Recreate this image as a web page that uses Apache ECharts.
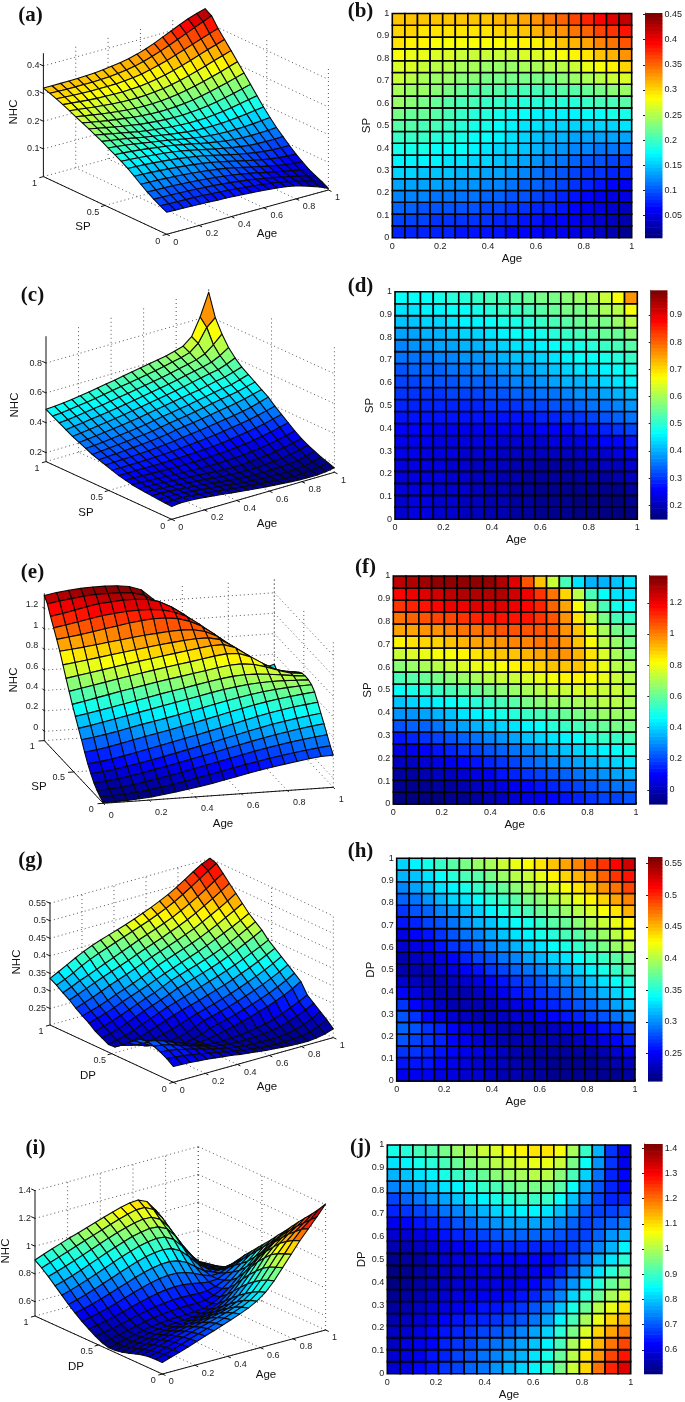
<!DOCTYPE html>
<html><head><meta charset="utf-8">
<style>html,body{margin:0;padding:0;background:#fff}#c{width:685px;height:1402px}</style>
<script src="https://cdn.jsdelivr.net/npm/echarts@6/dist/echarts.min.js"></script>
</head><body><div id="c"></div>
<script>
// NHC values. Each matrix: rows SP/DP = 0 .. 1, columns Age = 0 .. 1 (20 nodes each way)
const nhcA = [
[.080,.079,.078,.077,.076,.075,.073,.072,.070,.068,.066,.064,.061,.058,.054,.048,.040,.030,.019,.006],
[.092,.091,.090,.089,.088,.087,.085,.083,.081,.078,.075,.072,.068,.064,.059,.053,.046,.038,.029,.019],
[.105,.104,.103,.102,.101,.099,.097,.095,.092,.089,.085,.081,.076,.071,.065,.059,.052,.045,.038,.030],
[.120,.119,.118,.117,.115,.113,.111,.108,.105,.101,.097,.092,.086,.080,.073,.066,.060,.054,.048,.042],
[.137,.136,.135,.133,.131,.129,.126,.123,.119,.115,.110,.104,.097,.090,.083,.076,.070,.065,.061,.058],
[.155,.154,.152,.150,.148,.145,.142,.138,.134,.129,.123,.116,.109,.102,.095,.088,.083,.079,.076,.075],
[.172,.171,.169,.167,.164,.161,.157,.153,.148,.142,.135,.128,.121,.114,.108,.103,.099,.096,.095,.095],
[.187,.185,.183,.180,.177,.174,.170,.165,.159,.153,.146,.139,.133,.127,.122,.118,.116,.115,.115,.116],
[.200,.198,.195,.192,.188,.184,.180,.175,.169,.163,.156,.150,.145,.140,.137,.135,.134,.135,.136,.138],
[.213,.210,.206,.202,.197,.192,.187,.182,.176,.170,.165,.160,.157,.155,.154,.154,.155,.157,.160,.163],
[.226,.221,.216,.211,.205,.199,.194,.189,.184,.180,.176,.173,.172,.172,.173,.175,.178,.182,.186,.190],
[.238,.232,.226,.220,.214,.208,.203,.199,.195,.192,.190,.189,.189,.190,.193,.197,.202,.208,.214,.220],
[.249,.243,.237,.231,.225,.220,.215,.212,.209,.207,.206,.206,.208,.211,.215,.220,.227,.234,.242,.250],
[.260,.254,.248,.243,.238,.234,.230,.227,.225,.224,.224,.226,.229,.233,.239,.246,.254,.262,.271,.280],
[.271,.266,.261,.256,.252,.248,.245,.243,.242,.242,.244,.247,.251,.257,.264,.272,.281,.290,.300,.310],
[.282,.278,.274,.270,.267,.264,.262,.261,.261,.262,.265,.269,.275,.282,.290,.299,.309,.319,.329,.339],
[.293,.290,.287,.284,.282,.281,.280,.280,.281,.283,.287,.292,.299,.307,.316,.326,.337,.348,.358,.368],
[.303,.301,.299,.298,.297,.297,.297,.298,.300,.303,.308,.315,.323,.332,.343,.354,.365,.376,.387,.397],
[.312,.311,.310,.310,.310,.310,.311,.313,.316,.320,.326,.334,.344,.355,.367,.380,.393,.406,.419,.432],
[.320,.320,.320,.320,.321,.322,.324,.327,.331,.336,.342,.350,.360,.372,.386,.400,.414,.427,.438,.447]];
const nhcC = [
[.225,.232,.232,.228,.222,.215,.208,.201,.194,.187,.181,.175,.170,.165,.160,.157,.155,.155,.160,.170],
[.228,.233,.232,.228,.222,.215,.208,.201,.194,.186,.180,.175,.170,.166,.162,.160,.160,.163,.172,.185],
[.232,.234,.232,.228,.222,.216,.209,.202,.195,.187,.181,.176,.172,.170,.168,.168,.170,.175,.186,.200],
[.236,.236,.233,.229,.224,.218,.211,.204,.197,.190,.185,.180,.177,.177,.178,.180,.184,.190,.204,.220],
[.240,.238,.235,.231,.226,.221,.215,.209,.203,.197,.192,.189,.188,.189,.193,.197,.203,.212,.225,.240],
[.245,.242,.239,.235,.231,.227,.222,.217,.212,.208,.205,.204,.205,.208,.213,.219,.227,.237,.250,.265],
[.250,.247,.244,.241,.238,.235,.232,.229,.227,.226,.226,.227,.230,.234,.240,.247,.256,.267,.280,.295],
[.260,.258,.256,.254,.252,.250,.249,.249,.249,.250,.252,.255,.259,.264,.270,.278,.288,.300,.315,.330],
[.270,.270,.270,.270,.270,.270,.271,.272,.274,.276,.279,.283,.288,.296,.305,.313,.323,.335,.350,.365],
[.285,.285,.286,.287,.288,.290,.292,.295,.300,.305,.310,.316,.323,.332,.340,.349,.359,.370,.385,.400],
[.300,.302,.304,.306,.309,.312,.316,.321,.327,.335,.342,.349,.357,.366,.375,.384,.394,.405,.422,.440],
[.315,.318,.322,.326,.330,.335,.340,.346,.353,.365,.373,.381,.390,.400,.410,.419,.429,.440,.455,.470],
[.330,.335,.340,.345,.351,.357,.363,.370,.380,.390,.399,.408,.417,.427,.440,.450,.460,.470,.485,.500],
[.350,.354,.359,.365,.372,.379,.386,.394,.404,.415,.424,.433,.443,.454,.465,.476,.486,.495,.512,.530],
[.370,.375,.381,.388,.395,.403,.411,.420,.430,.440,.450,.460,.470,.480,.490,.502,.514,.525,.542,.560],
[.390,.396,.403,.411,.419,.427,.436,.446,.455,.465,.475,.485,.495,.507,.520,.532,.544,.555,.575,.600],
[.415,.421,.428,.436,.444,.452,.461,.470,.480,.490,.500,.510,.520,.532,.545,.558,.570,.585,.612,.650],
[.440,.445,.452,.460,.468,.476,.485,.495,.505,.515,.525,.535,.545,.557,.570,.583,.597,.620,.665,.720],
[.465,.470,.476,.484,.492,.500,.510,.520,.530,.540,.550,.560,.570,.582,.595,.608,.625,.670,.760,.810],
[.490,.494,.500,.507,.515,.523,.533,.543,.553,.565,.575,.585,.595,.605,.615,.630,.648,.695,.810,.960]];
const nhcE = [
[-.085,-.082,-.078,-.070,-.060,-.045,-.028,-.010,.010,.030,.055,.080,.105,.128,.150,.170,.188,.205,.22,.225],
[-.060,-.056,-.050,-.040,-.026,-.008,.012,.034,.058,.082,.107,.132,.157,.180,.202,.222,.240,.257,.272,.285],
[-.030,-.024,-.014,.002,.022,.044,.068,.092,.118,.144,.170,.196,.222,.247,.270,.292,.312,.330,.346,.360],
[.012,.022,.036,.056,.078,.102,.126,.152,.178,.204,.231,.258,.285,.312,.337,.360,.382,.402,.420,.435],
[.070,.082,.098,.118,.140,.164,.188,.214,.240,.266,.294,.322,.350,.378,.405,.430,.452,.472,.490,.505],
[.135,.148,.166,.188,.212,.238,.264,.290,.316,.342,.370,.398,.426,.454,.482,.508,.530,.550,.566,.580],
[.215,.232,.252,.276,.302,.328,.352,.376,.402,.428,.455,.482,.510,.537,.562,.585,.605,.622,.636,.648],
[.305,.322,.342,.365,.390,.415,.438,.460,.484,.510,.536,.562,.588,.612,.634,.652,.666,.676,.683,.688],
[.385,.405,.428,.452,.476,.500,.524,.548,.572,.596,.620,.644,.666,.684,.698,.708,.712,.712,.708,.703],
[.470,.490,.512,.535,.558,.582,.606,.630,.652,.674,.696,.718,.738,.754,.762,.760,.750,.736,.720,.708],
[.555,.578,.602,.626,.650,.672,.694,.716,.736,.755,.774,.794,.814,.830,.836,.822,.790,.748,.715,.702],
[.650,.672,.694,.716,.738,.760,.780,.800,.820,.838,.856,.876,.896,.910,.905,.864,.792,.728,.692,.680],
[.745,.764,.783,.803,.823,.843,.862,.880,.898,.915,.932,.950,.965,.968,.930,.850,.760,.695,.662,.650],
[.845,.860,.876,.893,.910,.927,.944,.960,.975,.988,1.00,1.01,1.01,.985,.915,.820,.730,.670,.635,.620],
[.945,.957,.970,.985,1.00,1.015,1.03,1.045,1.055,1.065,1.07,1.065,1.04,.985,.900,.800,.705,.640,.605,.590],
[1.03,1.045,1.06,1.08,1.10,1.12,1.14,1.155,1.165,1.165,1.15,1.115,1.06,.975,.870,.745,.635,.565,.535,.525],
[1.11,1.13,1.15,1.175,1.195,1.21,1.22,1.225,1.225,1.21,1.18,1.13,1.05,.95,.820,.680,.565,.495,.475,.480],
[1.19,1.21,1.235,1.26,1.28,1.29,1.30,1.30,1.29,1.26,1.20,1.12,1.01,.880,.720,.570,.465,.420,.420,.440],
[1.28,1.30,1.315,1.33,1.34,1.34,1.34,1.33,1.30,1.22,1.06,.91,.74,.57,.43,.36,.345,.385,.425,.46],
[1.33,1.35,1.365,1.375,1.38,1.38,1.375,1.36,1.32,1.22,1.01,.85,.68,.54,.44,.40,.41,.44,.47,.50]];
const nhcG = [
[.248,.247,.246,.244,.242,.239,.236,.233,.229,.226,.223,.220,.218,.216,.214,.213,.213,.215,.220,.228],
[.262,.260,.257,.253,.249,.244,.239,.234,.230,.226,.222,.219,.217,.216,.216,.217,.219,.224,.233,.245],
[.272,.270,.266,.260,.254,.247,.241,.235,.230,.226,.223,.221,.220,.220,.221,.223,.228,.236,.247,.260],
[.280,.277,.271,.263,.255,.247,.240,.234,.229,.226,.225,.225,.226,.228,.231,.236,.243,.252,.263,.275],
[.286,.281,.273,.263,.253,.244,.236,.230,.227,.226,.227,.229,.232,.236,.241,.248,.257,.267,.278,.290],
[.283,.268,.254,.243,.235,.230,.228,.228,.230,.235,.240,.246,.252,.259,.267,.275,.284,.294,.306,.320],
[.270,.256,.243,.233,.226,.224,.225,.228,.235,.245,.251,.257,.264,.272,.280,.289,.298,.309,.321,.335],
[.255,.243,.234,.228,.225,.226,.230,.238,.248,.258,.264,.271,.278,.286,.295,.304,.314,.325,.337,.350],
[.240,.233,.228,.228,.232,.238,.245,.253,.262,.270,.277,.284,.292,.300,.309,.319,.329,.340,.352,.365],
[.226,.226,.229,.235,.243,.252,.261,.270,.278,.285,.292,.300,.308,.316,.325,.335,.345,.356,.368,.380],
[.225,.230,.236,.245,.255,.265,.275,.284,.292,.300,.308,.316,.324,.332,.341,.351,.361,.372,.383,.395],
[.235,.241,.248,.258,.268,.278,.287,.296,.306,.316,.324,.332,.340,.348,.357,.367,.378,.390,.402,.415],
[.245,.253,.261,.270,.280,.290,.299,.308,.319,.330,.338,.346,.354,.362,.371,.381,.392,.404,.417,.430],
[.260,.267,.275,.284,.294,.303,.312,.321,.331,.341,.350,.359,.368,.377,.387,.398,.409,.420,.432,.445],
[.272,.279,.287,.296,.306,.315,.324,.334,.345,.356,.365,.374,.383,.392,.402,.413,.425,.438,.451,.465],
[.285,.294,.303,.313,.323,.332,.341,.351,.361,.371,.380,.389,.398,.408,.418,.430,.443,.456,.470,.485],
[.300,.309,.319,.329,.339,.348,.357,.366,.376,.386,.395,.404,.414,.424,.435,.447,.461,.475,.490,.505],
[.312,.322,.333,.342,.352,.362,.372,.382,.392,.402,.411,.420,.430,.440,.452,.465,.479,.494,.510,.525],
[.325,.335,.347,.360,.372,.382,.391,.400,.409,.418,.427,.436,.446,.457,.469,.483,.498,.514,.530,.545],
[.336,.348,.361,.374,.386,.396,.405,.413,.421,.429,.438,.448,.458,.469,.481,.495,.510,.526,.541,.551]];
const nhcI = [
[.580,.600,.620,.642,.665,.687,.709,.731,.754,.778,.805,.838,.885,.950,1.03,1.11,1.19,1.26,1.33,1.405],
[.580,.598,.617,.638,.660,.681,.702,.723,.744,.766,.790,.822,.868,.935,1.01,1.09,1.17,1.235,1.285,1.345],
[.577,.593,.611,.631,.651,.671,.690,.708,.727,.746,.768,.798,.842,.910,.990,1.07,1.14,1.195,1.24,1.29],
[.568,.584,.601,.620,.638,.656,.672,.687,.702,.718,.738,.767,.810,.878,.957,1.04,1.105,1.155,1.195,1.24],
[.553,.570,.587,.605,.621,.636,.649,.660,.672,.686,.704,.732,.775,.840,.915,.995,1.055,1.105,1.145,1.19],
[.537,.553,.570,.587,.602,.615,.625,.634,.643,.654,.669,.694,.735,.795,.868,.945,1.005,1.055,1.095,1.135],
[.522,.537,.554,.570,.584,.596,.604,.610,.617,.625,.637,.657,.692,.747,.815,.885,.945,.995,1.04,1.08],
[.512,.526,.542,.558,.571,.582,.589,.594,.598,.603,.611,.625,.652,.698,.757,.822,.880,.935,.985,1.03],
[.510,.523,.538,.554,.568,.579,.587,.593,.596,.599,.602,.610,.627,.660,.708,.765,.825,.880,.935,.975],
[.525,.535,.548,.563,.578,.592,.604,.613,.620,.624,.625,.625,.630,.648,.680,.725,.778,.830,.885,.925],
[.550,.559,.571,.586,.602,.618,.632,.644,.653,.660,.662,.660,.657,.660,.674,.702,.745,.790,.835,.875],
[.580,.590,.603,.618,.636,.654,.672,.688,.701,.711,.716,.715,.706,.694,.684,.690,.718,.755,.785,.825],
[.612,.625,.640,.657,.676,.697,.718,.738,.756,.769,.776,.775,.764,.742,.713,.690,.692,.715,.740,.775],
[.650,.665,.682,.702,.723,.745,.767,.789,.809,.825,.835,.837,.826,.798,.750,.705,.680,.680,.695,.720],
[.690,.707,.727,.749,.772,.796,.820,.843,.865,.883,.896,.901,.892,.860,.802,.735,.685,.657,.652,.665],
[.735,.753,.774,.797,.821,.846,.871,.895,.917,.937,.952,.960,.954,.920,.855,.770,.700,.650,.625,.622],
[.780,.799,.820,.843,.868,.893,.918,.942,.965,.985,1.00,1.01,1.005,.975,.905,.810,.725,.660,.620,.605],
[.825,.845,.866,.889,.913,.937,.961,.985,1.007,1.027,1.044,1.055,1.052,1.020,.950,.850,.750,.665,.615,.595],
[.865,.888,.910,.932,.955,.978,1.00,1.022,1.045,1.066,1.085,1.10,1.10,1.07,.995,.890,.780,.675,.610,.585],
[.900,.925,.948,.970,.992,1.012,1.033,1.054,1.075,1.095,1.113,1.128,1.133,1.105,1.03,.92,.80,.69,.61,.575]];

const ageTicks = [0,.2,.4,.6,.8,1];
const spTicks3D = [0,.5,1];
const zTicksA = [.1,.2,.3,.4];
const zTicksC = [.2,.4,.6,.8];
const zTicksE = [0,.2,.4,.6,.8,1,1.2];
const zTicksG = [.25,.3,.35,.4,.45,.5,.55];
const zTicksI = [.6,.8,1,1.2,1.4];
const barTicksB = [.05,.1,.15,.2,.25,.3,.35,.4,.45];
const barTicksD = [.2,.3,.4,.5,.6,.7,.8,.9];
const barTicksF = [0,.2,.4,.6,.8,1,1.2];
const barTicksH = [.25,.3,.35,.4,.45,.5,.55];
const barTicksJ = [.6,.7,.8,.9,1,1.1,1.2,1.3,1.4];

[nhcA,nhcC,nhcE,nhcG,nhcI].forEach((m,k)=>{ if(m.length!==20) throw new Error('rows '+k);
  m.forEach((r,i)=>{ if(r.length!==20) throw new Error('matrix '+k+' row '+i+' len '+r.length); }); });

const FONT = '"Liberation Sans",Arial,sans-serif';
const INK = '#222';
const clamp = v => Math.max(0, Math.min(1, v));
function jet(v, rng){
  const n = 64;
  const t = Math.min(n-1, Math.max(0, Math.floor((v-rng[0])/(rng[1]-rng[0])*n)))/(n-1);
  const c = k => Math.round(255*clamp(1.5-Math.abs(4*t-k)));
  return 'rgb('+c(3)+','+c(2)+','+c(1)+')';
}
const N = 19;

const surfaces = [
 {m:nhcA,rng:[.006,.453],O:[166.7,234.3],A:[161.7,-44.3],S:[-123.3,-57.7],zs:276.7,zb:[0,.446],zt:zTicksA,yName:'SP',off:{age:[10,8],sp:[-9,7],z:[-4,0]},
  names:{nhc:[14,112],sp:[83,227],age:[267,234]},letter:['(a)',18,16]},
 {m:nhcC,rng:[.15,.99],O:[171.7,519.3],A:[162.7,-47],S:[-125.7,-57.7],zs:149.3,zb:[.14,.98],zt:zTicksC,yName:'SP',off:{age:[10,8],sp:[-9,7],z:[-4,0]},
  names:{nhc:[15,405],sp:[86,513],age:[267,524]},letter:['(c)',20,296]},
 {m:nhcE,rng:[-.09,1.375],O:[103.3,803.3],A:[230,-16],S:[-59,-62.7],zs:102.2,zb:[-.09,1.35],zt:zTicksE,yName:'SP',off:{age:[9,12],sp:[-12,6],z:[-6,-4]},
  names:{nhc:[14,680],sp:[39,787],age:[223,824]},letter:['(e)',20,573]},
 {m:nhcG,rng:[.207,.56],O:[173.3,1082.3],A:[160,-44.7],S:[-123.3,-57.3],zs:350.7,zb:[.203,.553],zt:zTicksG,yName:'DP',off:{age:[10,8],sp:[-9,7],z:[-4,0]},
  names:{nhc:[17,962],sp:[88,1076],age:[267,1087]},letter:['(g)',18,861]},
 {m:nhcI,rng:[.506,1.416],O:[162.3,1374],A:[163.3,-44],S:[-127.3,-58],zs:138.8,zb:[.497,1.405],zt:zTicksI,yName:'DP',off:{age:[10,8],sp:[-9,7],z:[-4,0]},
  names:{nhc:[6,1251],sp:[76,1367],age:[266,1375]},letter:['(i)',23,1149]}
];
const heats = [
 {m:nhcA,rng:[.006,.453],bt:barTicksB,box:[392.3,13.5,239.4,224.2],bar:[645,13,19,224.7],yName:'SP',letter:['(b)',348,12]},
 {m:nhcC,rng:[.15,.99],bt:barTicksD,box:[395,291.7,242.3,227.6],bar:[650.7,290.3,18.6,228.7],yName:'SP',letter:['(d)',348,287]},
 {m:nhcE,rng:[-.09,1.375],bt:barTicksF,box:[393.3,576,242.7,228],bar:[649.3,575.5,19,228.5],yName:'SP',letter:['(f)',353,568]},
 {m:nhcG,rng:[.207,.56],bt:barTicksH,box:[396.7,858.3,238.3,222.7],bar:[648,857,18.7,224],yName:'DP',letter:['(h)',348,852]},
 {m:nhcI,rng:[.506,1.416],bt:barTicksJ,box:[387.3,1145,243.4,228.7],bar:[644,1144,18.7,229.7],yName:'DP',letter:['(j)',348,1148]}
];

const project = (p,a,s,z)=>[p.O[0]+a*p.A[0]+s*p.S[0], p.O[1]+a*p.A[1]+s*p.S[1]-(z-p.zb[0])*p.zs];
const fmt = v => String(+v.toFixed(2));

const grid=[{left:0,top:0,width:685,height:1402,show:false}];
const xAxis=[{gridIndex:0,type:'value',min:0,max:685,show:false}];
const yAxis=[{gridIndex:0,type:'value',min:0,max:1402,inverse:true,show:false}];
const series=[];
const graphic=[];

const addText=(text,x,y,font,rot)=>graphic.push({type:'text',x,y,rotation:rot||0,z:100,
  style:{text,font,fill:'#111',align:'center',verticalAlign:'middle'}});
const axisFont='11.5px '+FONT, letterFont='bold 21px "Liberation Serif",serif';

surfaces.forEach(p=>{
  const segs=[], zMin=p.zb[0], zMax=p.zb[1];
  const dot=(a,b)=>segs.push({a,b,d:1}), solid=(a,b)=>segs.push({a,b,d:0});
  ageTicks.forEach(t=>{ dot([t,0,zMin],[t,1,zMin]); if(t>0) dot([t,1,zMin],[t,1,zMax]); });
  spTicks3D.forEach(t=>{ dot([0,t,zMin],[1,t,zMin]); dot([1,t,zMin],[1,t,zMax]); });
  p.zt.forEach(t=>{ dot([0,1,t],[1,1,t]); dot([1,1,t],[1,0,t]); });
  solid([0,1,zMin],[0,1,zMax]); solid([0,1,zMin],[0,0,zMin]); solid([0,0,zMin],[1,0,zMin]);
  ageTicks.forEach(t=>solid([t,0,zMin],[t,-.025,zMin]));
  spTicks3D.forEach(t=>solid([0,t,zMin],[-.025,t,zMin]));
  p.zt.forEach(t=>solid([0,1,t],[0,1.03,t]));
  series.push({type:'custom',coordinateSystem:'cartesian2d',xAxisIndex:0,yAxisIndex:0,silent:true,animation:false,z:1,
    data:segs.map((_,i)=>[i,0]),
    renderItem:(params,api)=>{
      const g=segs[api.value(0)];
      const A=api.coord(project(p,...g.a)),B=api.coord(project(p,...g.b));
      return {type:'line',shape:{x1:A[0],y1:A[1],x2:B[0],y2:B[1]},
        style:{stroke:g.d?'#555':'#111',lineWidth:1,lineDash:g.d?[1,3]:null,fill:null}};
    }});
  const labels=[];
  ageTicks.forEach(t=>labels.push({t:fmt(t),pos:[t,0,zMin],o:(t===0||t===1)?[p.off.age[0]-1,p.off.age[1]]:[p.off.age[0]+3,p.off.age[1]],al:'center'}));
  spTicks3D.forEach(t=>labels.push({t:fmt(t),pos:[0,t,zMin],o:t===.5?[p.off.sp[0]-3,p.off.sp[1]]:p.off.sp,al:'center'}));
  p.zt.forEach(t=>labels.push({t:fmt(t),pos:[0,1,t],o:p.off.z,al:'right'}));
  series.push({type:'custom',coordinateSystem:'cartesian2d',xAxisIndex:0,yAxisIndex:0,silent:true,animation:false,z:1,
    data:labels.map((_,i)=>[i,0]),
    renderItem:(params,api)=>{
      const l=labels[api.value(0)], c=api.coord(project(p,...l.pos));
      return {type:'text',x:c[0]+l.o[0],y:c[1]+l.o[1],
        style:{text:l.t,font:'9px '+FONT,fill:INK,align:l.al,verticalAlign:'middle'}};
    }});
  const faces=[];
  for(let r=N-1;r>=0;r--) for(let c=N-1;c>=0;c--) faces.push([c,r]);
  series.push({type:'custom',coordinateSystem:'cartesian2d',xAxisIndex:0,yAxisIndex:0,silent:true,animation:false,z:2,
    data:faces,
    renderItem:(params,api)=>{
      const c=api.value(0), r=api.value(1);
      const pts=[[c,r],[c+1,r],[c+1,r+1],[c,r+1]].map(q=>api.coord(project(p,q[0]/N,q[1]/N,p.m[q[1]][q[0]])));
      return {type:'polygon',z2:params.dataIndex,shape:{points:pts},
        style:{fill:jet(p.m[r][c],p.rng),stroke:'#0a0a0a',lineWidth:1.1,lineJoin:'round'}};
    }});
  addText('NHC',p.names.nhc[0],p.names.nhc[1],axisFont,Math.PI/2);
  addText(p.yName,p.names.sp[0],p.names.sp[1],axisFont);
  addText('Age',p.names.age[0],p.names.age[1],axisFont);
  addText(p.letter[0],p.letter[1]+12.5,p.letter[2],letterFont);
});

heats.forEach(h=>{
  const gi=grid.length;
  grid.push({left:h.box[0],top:h.box[1],width:h.box[2],height:h.box[3],show:false});
  const common={axisLine:{lineStyle:{color:'#333',width:1}},splitLine:{show:false},
    axisTick:{inside:true,length:2,lineStyle:{color:'#333'}},
    nameTextStyle:{fontFamily:'Liberation Sans',fontSize:11.5,color:'#111'}};
  const lab=m=>({fontSize:9,fontFamily:'Liberation Sans',color:INK,margin:m,formatter:v=>fmt(v)});
  xAxis.push(Object.assign({gridIndex:gi,type:'value',min:0,max:1,interval:.2,name:'Age',nameLocation:'middle',nameGap:15,axisLabel:lab(4)},common));
  yAxis.push(Object.assign({gridIndex:gi,type:'value',min:0,max:1,interval:.1,name:h.yName,nameLocation:'middle',nameGap:19,axisLabel:lab(3)},common));
  const cells=[];
  for(let r=0;r<N;r++) for(let c=0;c<N;c++) cells.push([c/N,r/N,(c+1)/N,(r+1)/N,h.m[r][c]]);
  series.push({type:'custom',coordinateSystem:'cartesian2d',xAxisIndex:gi,yAxisIndex:gi,silent:true,animation:false,z:2,
    data:cells,encode:{x:[0,2],y:[1,3]},
    renderItem:(params,api)=>{
      const a=api.coord([api.value(0),api.value(1)]),b=api.coord([api.value(2),api.value(3)]);
      return {type:'rect',shape:{x:a[0],y:b[1],width:b[0]-a[0],height:a[1]-b[1]},
        style:{fill:jet(api.value(4),h.rng),stroke:'#000',lineWidth:1.6}};
    }});
  const bi=grid.length;
  grid.push({left:h.bar[0],top:h.bar[1],width:h.bar[2],height:h.bar[3],show:false});
  xAxis.push({gridIndex:bi,type:'value',min:0,max:1,show:false});
  yAxis.push({gridIndex:bi,type:'value',min:h.rng[0],max:h.rng[1],position:'right',
    splitLine:{show:false},axisLine:{show:true,lineStyle:{color:'#555'}},
    axisTick:{inside:true,length:2,lineStyle:{color:'#222'},customValues:h.bt},
    axisLabel:{fontSize:9,fontFamily:'Liberation Sans',color:INK,margin:2,customValues:h.bt,formatter:v=>fmt(v)}});
  const bands=[];
  for(let k=0;k<64;k++) bands.push([0,h.rng[0]+(h.rng[1]-h.rng[0])*k/64,1,h.rng[0]+(h.rng[1]-h.rng[0])*(k+1)/64]);
  series.push({type:'custom',coordinateSystem:'cartesian2d',xAxisIndex:bi,yAxisIndex:bi,silent:true,animation:false,z:2,
    data:bands,encode:{x:[0,2],y:[1,3]},
    renderItem:(params,api)=>{
      const a=api.coord([api.value(0),api.value(1)]),b=api.coord([api.value(2),api.value(3)]);
      return {type:'rect',shape:{x:a[0],y:b[1],width:b[0]-a[0],height:a[1]-b[1]+.6},
        style:{fill:jet((api.value(1)+api.value(3))/2,h.rng)}};
    }});
  addText(h.letter[0],h.letter[1]+12.5,h.letter[2],letterFont);
});

const chart=echarts.init(document.getElementById('c'),null,{renderer:'canvas'});
chart.setOption({animation:false,backgroundColor:'#fff',grid,xAxis,yAxis,series,graphic:{elements:graphic}});
</script></body></html>
